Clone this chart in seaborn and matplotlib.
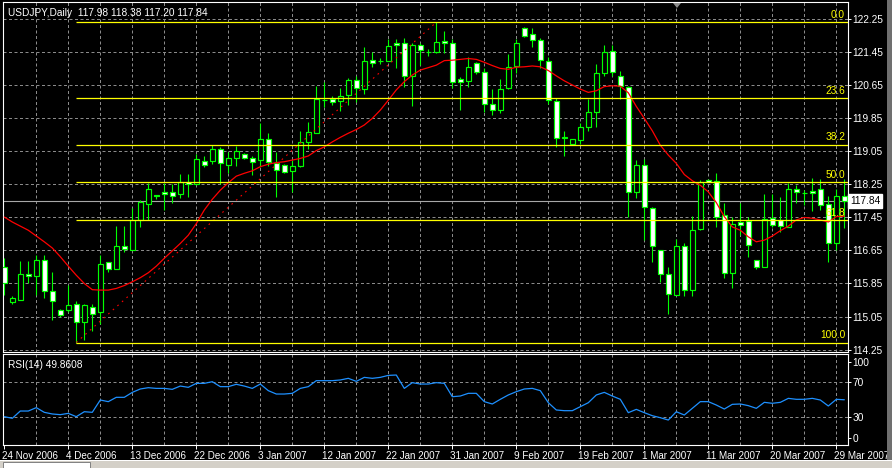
#import libraries
import numpy as np
import pandas as pd
import seaborn as sns
import matplotlib
matplotlib.use("Agg")
import matplotlib.pyplot as plt
from matplotlib.patches import Rectangle, Polygon
import matplotlib.transforms as mtransforms

#daily USDJPY bars, bar 0 = 24 Nov 2006
opens = [116.25, 115.41, 115.46, 116.09, 116.03, 116.43, 115.68, 115.20, 115.20, 115.36,
         114.92, 115.29, 115.15, 116.36, 116.21, 116.75, 116.67, 117.40, 117.77, 117.99,
         118.06, 118.06, 118.01, 118.32, 118.26, 118.81, 118.82, 119.12, 118.73, 118.90,
         118.98, 118.90, 118.83, 119.34, 118.77, 118.72, 118.58, 118.69, 119.28, 119.50,
         120.29, 120.32, 120.26, 120.42, 120.78, 120.57, 121.26, 121.25, 121.25, 121.67,
         121.67, 120.88, 121.62, 121.46, 121.45, 121.72, 121.67, 120.80, 120.76, 121.18,
         120.98, 120.19, 120.05, 120.58, 121.13, 122.03, 121.89, 121.76, 121.25, 120.27,
         119.38, 119.24, 119.33, 119.65, 120.00, 120.94, 121.49, 120.88, 120.62, 118.06,
         118.71, 117.69, 116.66, 116.09, 115.57, 116.77, 115.70, 117.16, 118.36, 118.33,
         117.52, 116.11, 117.33, 117.36, 116.42, 116.25, 117.43, 117.39, 117.22, 118.13,
         118.05, 118.10, 118.13, 117.77, 116.84, 117.98]
highs = [116.46, 115.54, 116.39, 116.39, 116.54, 116.54, 116.13, 115.22, 115.81, 115.43,
         115.35, 115.35, 116.54, 116.38, 117.24, 117.24, 117.69, 117.87, 118.29, 118.00,
         118.29, 118.27, 118.50, 118.50, 118.99, 118.94, 119.20, 119.16, 119.04, 119.18,
         119.00, 118.95, 119.73, 119.50, 119.04, 118.74, 118.84, 119.55, 119.77, 120.63,
         120.74, 120.39, 120.58, 120.84, 120.88, 121.59, 121.45, 121.32, 121.77, 121.77,
         121.79, 121.67, 121.67, 121.52, 122.18, 121.97, 121.77, 120.86, 121.33, 121.22,
         121.06, 120.56, 120.80, 121.40, 121.77, 122.07, 122.03, 121.79, 121.34, 120.34,
         119.54, 119.36, 119.75, 120.31, 121.17, 121.63, 121.63, 120.99, 120.63, 118.84,
         118.86, 117.70, 116.67, 116.24, 116.92, 116.84, 117.48, 118.35, 118.37, 118.52,
         117.79, 117.45, 117.81, 117.47, 116.43, 118.03, 118.03, 117.95, 118.29, 118.23,
         118.11, 118.40, 118.37, 117.97, 118.13, 118.38]
lows = [115.57, 115.35, 115.44, 115.86, 115.58, 115.49, 114.96, 115.04, 115.16, 114.42,
        114.47, 114.70, 114.88, 116.13, 116.19, 116.62, 116.65, 117.22, 117.40, 117.89,
        117.64, 117.79, 117.91, 117.94, 118.23, 118.68, 118.74, 118.27, 118.52, 118.69,
        118.86, 118.48, 118.68, 118.69, 117.95, 118.53, 118.07, 118.67, 119.12, 119.49,
        120.12, 120.17, 120.04, 120.17, 120.25, 120.44, 121.09, 121.17, 121.24, 121.08,
        120.62, 120.16, 121.14, 121.37, 121.44, 121.44, 120.58, 120.05, 120.62, 120.92,
        120.01, 119.93, 119.99, 120.56, 120.94, 121.83, 121.57, 121.06, 120.21, 119.15,
        118.94, 119.23, 119.24, 119.55, 119.65, 120.88, 120.88, 120.33, 117.47, 117.93,
        116.90, 116.38, 115.89, 115.12, 115.56, 115.54, 115.54, 117.15, 118.30, 117.21,
        115.99, 115.75, 117.02, 116.50, 116.21, 116.24, 117.21, 117.10, 117.21, 117.79,
        117.75, 117.60, 117.63, 116.38, 116.67, 117.20]
closes = [115.85, 115.50, 116.09, 116.04, 116.41, 115.66, 115.42, 115.09, 115.34, 114.92,
          115.32, 115.12, 116.31, 116.21, 116.75, 116.69, 117.40, 117.83, 118.15, 117.96,
          118.03, 117.98, 118.31, 118.27, 118.86, 118.73, 119.12, 118.76, 118.90, 119.05,
          118.88, 118.80, 119.35, 118.80, 118.61, 118.56, 118.69, 119.27, 119.51, 120.31,
          120.30, 120.24, 120.40, 120.78, 120.59, 121.24, 121.20, 121.24, 121.60, 121.62,
          120.88, 121.62, 121.51, 121.45, 121.71, 121.67, 120.73, 120.72, 121.10, 120.98,
          120.20, 120.05, 120.57, 121.10, 121.67, 121.84, 121.75, 121.26, 120.29, 119.37,
          119.38, 119.34, 119.65, 120.00, 120.94, 121.47, 120.98, 120.63, 118.07, 118.73,
          117.71, 116.77, 116.08, 115.59, 116.77, 115.69, 117.14, 118.31, 118.31, 117.47,
          116.11, 117.28, 117.26, 116.78, 116.25, 117.41, 117.26, 117.24, 118.13, 118.06,
          118.04, 118.05, 117.75, 116.84, 117.98, 117.84]

#red moving average line
ma_values = [117.46, 117.34, 117.24, 117.14, 117.00, 116.86, 116.71, 116.50, 116.27, 116.05,
             115.85, 115.70, 115.69, 115.69, 115.73, 115.80, 115.89, 115.99, 116.11, 116.27,
             116.46, 116.64, 116.82, 117.02, 117.30, 117.63, 117.89, 118.11, 118.29, 118.45,
             118.52, 118.58, 118.68, 118.74, 118.78, 118.80, 118.84, 118.88, 118.94, 119.07,
             119.16, 119.28, 119.39, 119.49, 119.58, 119.69, 119.85, 120.05, 120.29, 120.54,
             120.74, 120.90, 121.02, 121.08, 121.14, 121.25, 121.26, 121.28, 121.30, 121.28,
             121.21, 121.13, 121.06, 121.04, 121.09, 121.10, 121.12, 121.10, 121.01, 120.88,
             120.76, 120.66, 120.56, 120.48, 120.52, 120.62, 120.64, 120.63, 120.47, 120.14,
             119.85, 119.55, 119.20, 118.96, 118.76, 118.49, 118.34, 118.23, 118.07, 117.81,
             117.47, 117.22, 117.14, 116.98, 116.86, 116.90, 117.00, 117.13, 117.24, 117.39,
             117.45, 117.43, 117.39, 117.34, 117.47, 117.48]

#RSI(14) values
rsi_values = [30.4, 28.5, 36.9, 36.9, 40.8, 35.4, 33.5, 32.7, 34.2, 30.4,
              36.1, 35.4, 49.6, 47.7, 52.7, 52.7, 58.4, 62.3, 63.8, 63.0,
              63.0, 61.9, 65.7, 64.2, 68.8, 68.8, 70.7, 65.0, 65.0, 67.7,
              65.7, 63.0, 68.0, 60.4, 56.5, 56.5, 57.3, 63.0, 65.0, 71.9,
              71.9, 71.9, 72.7, 74.6, 71.1, 75.7, 74.6, 75.7, 78.0, 78.4,
              63.0, 69.6, 68.0, 68.0, 69.6, 68.8, 53.4, 54.2, 57.3, 57.3,
              47.7, 45.0, 50.4, 55.4, 59.2, 62.3, 63.0, 60.4, 46.5, 38.1,
              37.3, 37.3, 41.9, 46.5, 55.4, 58.4, 54.2, 50.4, 35.0, 38.8,
              35.0, 31.5, 29.2, 26.5, 36.1, 32.3, 40.0, 47.7, 47.7, 43.8,
              39.2, 44.6, 45.0, 43.1, 40.0, 46.9, 45.8, 46.9, 51.5, 50.4,
              50.4, 51.5, 49.6, 42.7, 50.4, 49.86]

date_labels = ["24 Nov 2006", "4 Dec 2006", "13 Dec 2006", "22 Dec 2006", "3 Jan 2007",
               "12 Jan 2007", "22 Jan 2007", "31 Jan 2007", "9 Feb 2007", "19 Feb 2007",
               "1 Mar 2007", "11 Mar 2007", "20 Mar 2007", "29 Mar 2007"]
price_ticks = [114.25, 115.05, 115.85, 116.65, 117.45, 118.25, 119.05, 119.85, 120.65, 121.45, 122.25]

#fibonacci retracement object
fib_names = ["0.0", "23.6", "38.2", "50.0", "61.8", "100.0"]
fib_ratios = [0.0, 0.236, 0.382, 0.5, 0.618, 1.0]
fib_high = 122.18
fib_low = 114.42
fib_low_bar = 9
fib_high_bar = 54
last_price = 117.84

df = pd.DataFrame({"bar": np.arange(len(opens)), "open": opens, "high": highs,
                   "low": lows, "close": closes, "ma": ma_values, "rsi": rsi_values})

sns.set_style("dark", {"axes.facecolor": "black", "figure.facecolor": "black"})
plt.rcParams["font.family"] = ["Liberation Sans", "DejaVu Sans"]

W, H = 892, 468
def box(x0, y0, x1, y1):
    return [x0 / W, 1 - y1 / H, (x1 - x0) / W, (y1 - y0) / H]

fig = plt.figure(figsize=(W / 100, H / 100), dpi=100, facecolor="black")
ax = fig.add_axes(box(3, 2, 848, 352))
ax_rsi = fig.add_axes(box(3, 354.3, 848, 444.5))

green = "#00ff00"
grid_c = "#8a8a8a"
xmin, xmax = -0.16, 105.46

#grid
for a in (ax, ax_rsi):
    for b in range(4, 105, 4):
        a.axvline(b, color=grid_c, lw=0.72, dashes=(3, 2.5), zorder=1)
for p in price_ticks:
    ax.axhline(p, color=grid_c, lw=0.72, dashes=(3, 2.5), zorder=1)
for r in (30, 70):
    ax_rsi.axhline(r, color=grid_c, lw=0.72, dashes=(3, 2.5), zorder=1)

#candles
ax.vlines(df["bar"], df["low"], df["high"], color=green, lw=0.8, zorder=3)
bull = df["close"] >= df["open"]
body_low = np.minimum(df["open"], df["close"])
body_h = np.maximum((df["close"] - df["open"]).abs(), 0.012)
faces = np.where(bull, "black", "white")
ax.bar(df["bar"], body_h, bottom=body_low, width=0.58, color=faces,
       edgecolor=green, linewidth=0.85, zorder=4)

#moving average
sns.lineplot(data=df, x="bar", y="ma", ax=ax, color="#ff0000", lw=0.9, zorder=5)

#current price line
ax.axhline(last_price, color="#a8a8a8", lw=0.8, zorder=2)

#fibonacci
ax.plot([fib_low_bar, fib_high_bar], [fib_low, fib_high], color="#ff0000", lw=0.8,
        dashes=(1.5, 4), zorder=5)
for name, r in zip(fib_names, fib_ratios):
    lvl = fib_high - r * (fib_high - fib_low)
    ax.hlines(lvl, fib_low_bar, xmax, color="#ffff00", lw=0.9, zorder=6)
    ax.annotate(name, (105.1, lvl), xytext=(0, 1.5), textcoords="offset points",
                ha="right", va="bottom", color="#ffff00", fontsize=7.3, zorder=7)

ax.set_xlim(xmin, xmax)
ax.set_ylim(114.19, 122.67)
ax.set_xlabel("")
ax.set_ylabel("")
ax.set_xticks([])
ax.yaxis.tick_right()
ax.set_yticks(price_ticks)
ax.set_yticklabels([f"{p:.2f}" for p in price_ticks])
ax.tick_params(axis="y", colors="white", labelsize=7.3, length=2.5, width=0.7, pad=0.8, right=True, left=False)

trans = mtransforms.blended_transform_factory(ax.transAxes, ax.transData)
ax.text(1.0025, last_price, f"{last_price:.2f}", transform=trans, ha="left", va="center",
        color="black", fontsize=7.3, zorder=10,
        bbox=dict(boxstyle="square,pad=0.2", fc="white", ec="white"))

#rsi panel
sns.lineplot(data=df, x="bar", y="rsi", ax=ax_rsi, color="#1e90ff", lw=0.9, zorder=3)
ax_rsi.set_xlim(xmin, xmax)
ax_rsi.set_ylim(-1.7, 102.3)
ax_rsi.set_xlabel("")
ax_rsi.set_ylabel("")
ax_rsi.yaxis.tick_right()
ax_rsi.set_yticks([6.1, 30, 70, 93.7])
ax_rsi.set_yticklabels(["0", "30", "70", "100"])
ax_rsi.tick_params(axis="y", colors="white", labelsize=7.3, length=2.5, width=0.7, pad=0.8, right=True, left=False)
ax_rsi.set_xticks(range(0, 105, 8))
ax_rsi.set_xticklabels(date_labels)
ax_rsi.tick_params(axis="x", colors="white", labelsize=7.1, length=3, width=0.7, pad=1.5, bottom=True)
shift = mtransforms.ScaledTranslation(-2 / 100, 0, fig.dpi_scale_trans)
for t in ax_rsi.get_xticklabels():
    t.set_ha("left")
    t.set_transform(t.get_transform() + shift)

for a in (ax, ax_rsi):
    a.set_facecolor("black")
    a.grid(False)
    for s in a.spines.values():
        s.set_color("white")
        s.set_linewidth(0.8)
        s.set_visible(True)

#texts
fig.text(8 / W, 1 - 12.5 / H, "USDJPY,Daily  117.98 118.38 117.20 117.84",
         color="white", fontsize=7.3, va="center")
fig.text(8 / W, 1 - 364.5 / H, "RSI(14) 49.8608", color="white", fontsize=7.3, va="center")

#window decorations
fig.patches.append(Rectangle((887 / W, 1 - 460 / H), 5 / W, 460 / H, transform=fig.transFigure,
                             fc="#707070", ec="none", zorder=0))
fig.patches.append(Rectangle((0, 0), 1, 7.5 / H, transform=fig.transFigure, fc="#d4d0c8", ec="none"))
fig.patches.append(Rectangle((0, 7.5 / H), 1, 1 / H, transform=fig.transFigure, fc="white", ec="none"))
fig.patches.append(Rectangle((3 / W, 0), 87 / W, 6 / H, transform=fig.transFigure, fc="white", ec="#808080", lw=0.7))
fig.patches.append(Polygon([(673 / W, 1 - 3 / H), (681 / W, 1 - 3 / H), (677 / W, 1 - 8 / H)],
                           closed=True, transform=fig.transFigure, fc="#8c8c8c", ec="none"))

fig.savefig("out.png", dpi=100, facecolor="black")
